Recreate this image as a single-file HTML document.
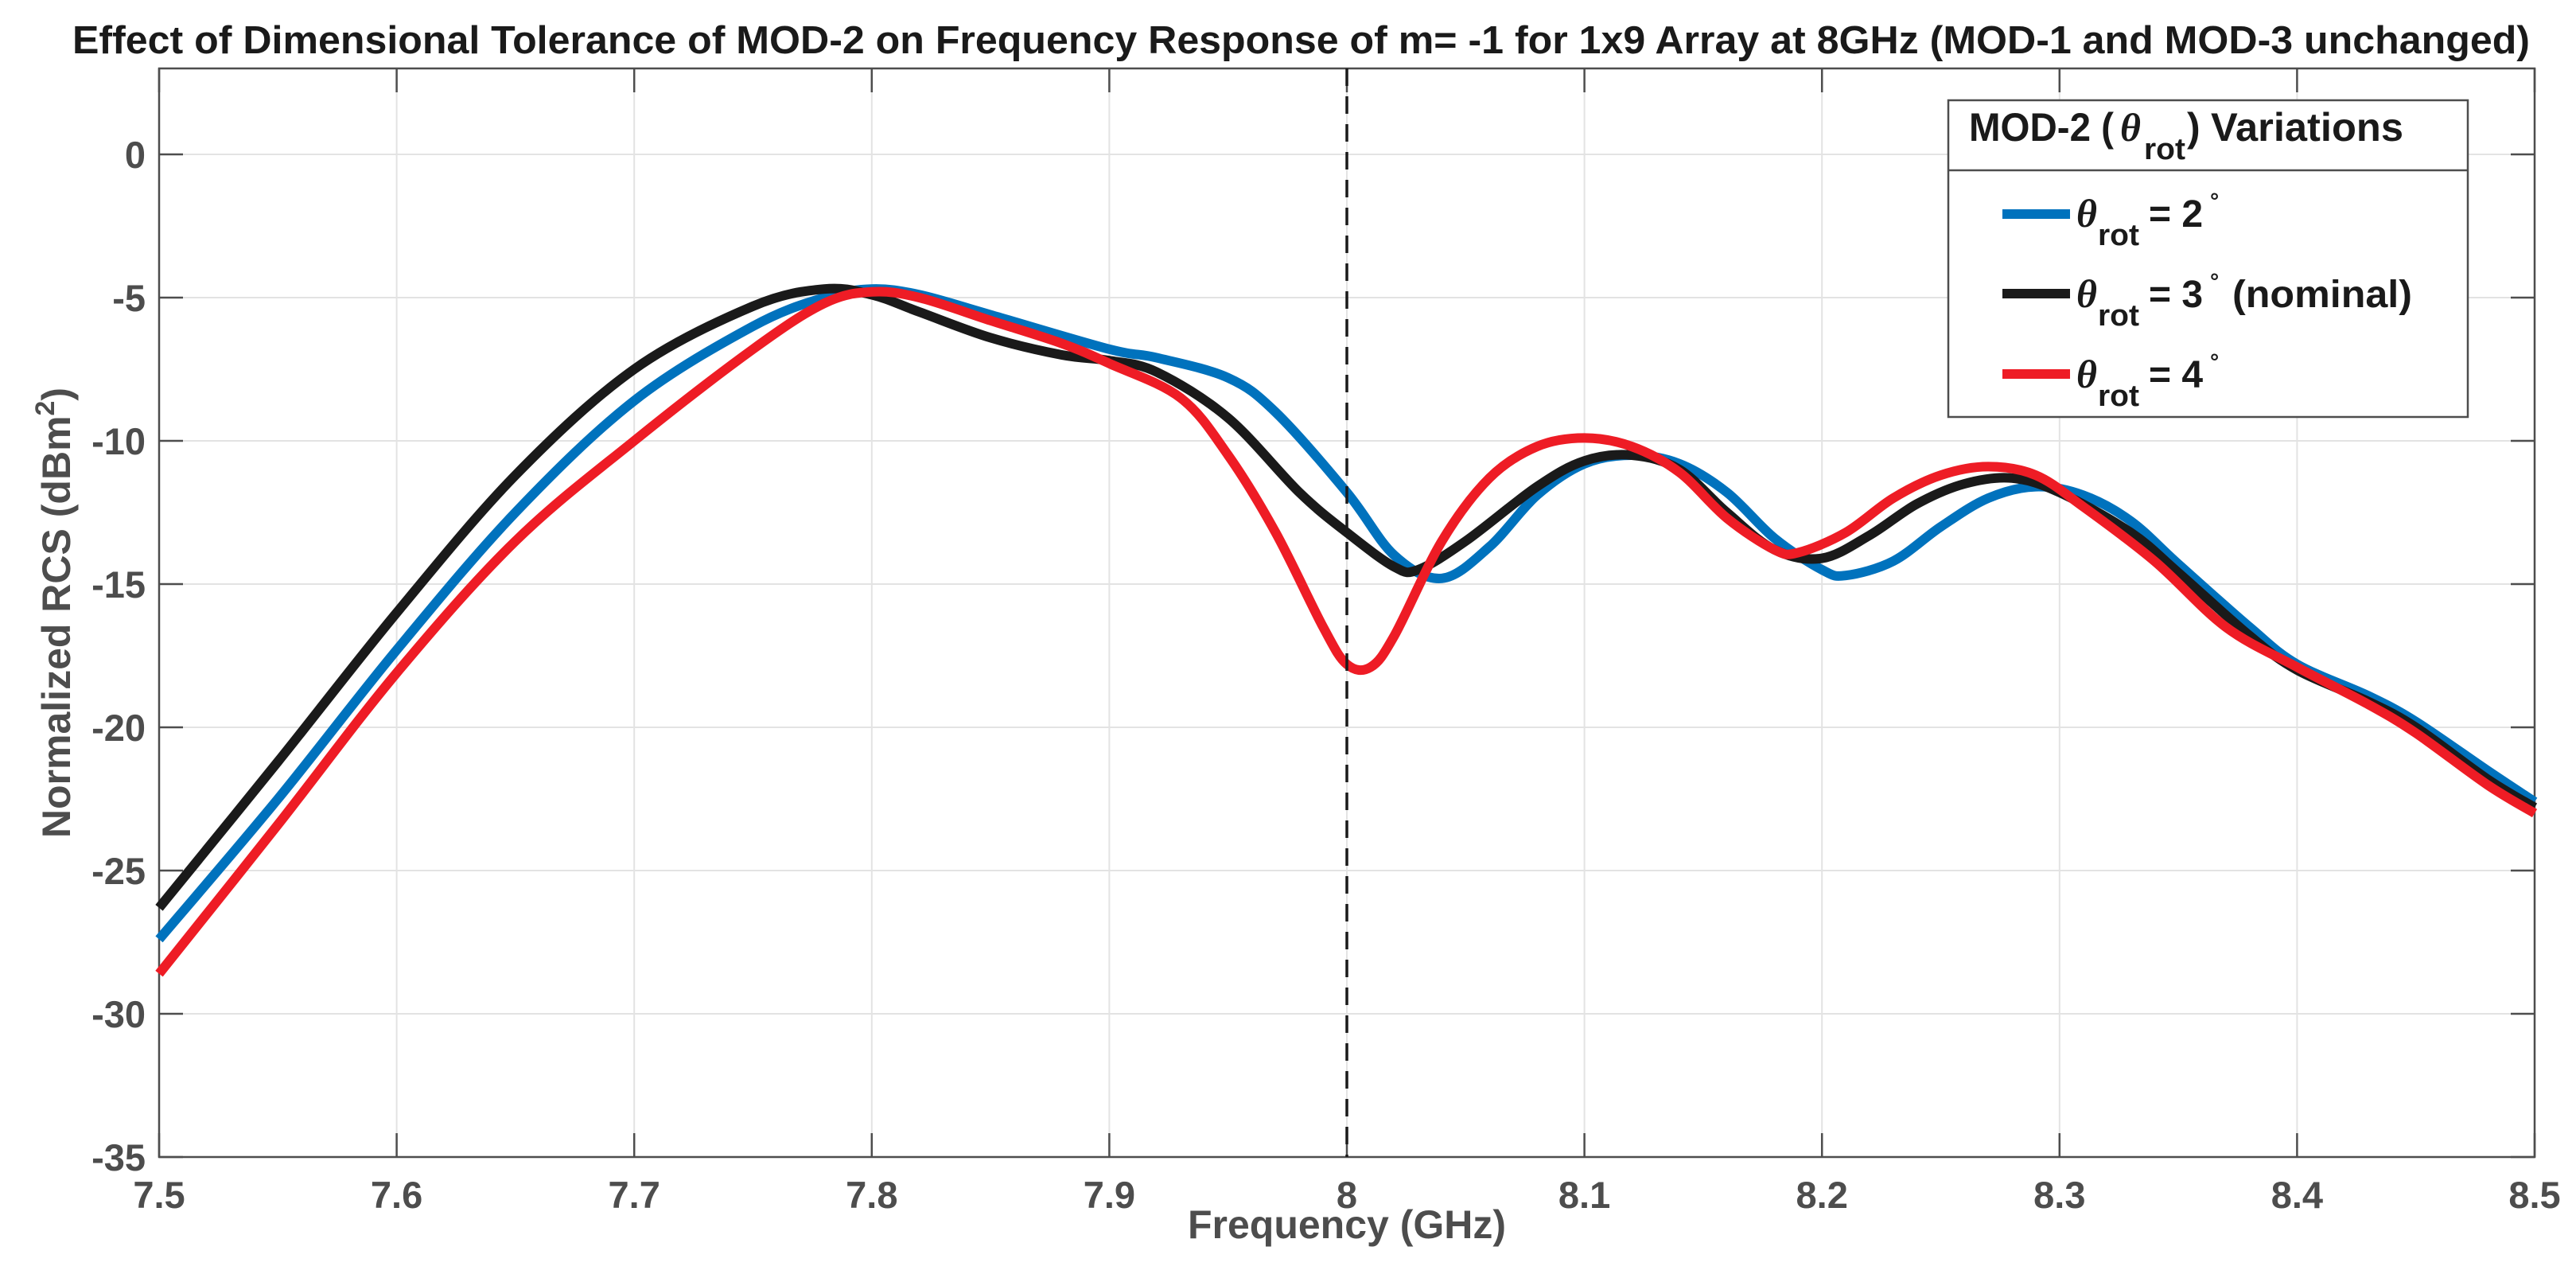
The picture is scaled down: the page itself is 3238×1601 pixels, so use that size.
<!DOCTYPE html>
<html><head><meta charset="utf-8"><style>
html,body{margin:0;padding:0;background:#fff;}
svg{display:block;font-family:"Liberation Sans",Arial,sans-serif;}
</style></head><body>
<svg id="chart" width="3238" height="1601" viewBox="0 0 3238 1601" xmlns="http://www.w3.org/2000/svg">
<rect x="0" y="0" width="3238" height="1601" fill="#fff"/>
<text x="91" y="67" textLength="3089" lengthAdjust="spacingAndGlyphs" font-size="49" font-weight="bold" fill="#1a1a1a">Effect of Dimensional Tolerance of MOD-2 on Frequency Response of m= -1 for 1x9 Array at 8GHz (MOD-1 and MOD-3 unchanged)</text>
<g id="grid"></g>
<g id="axes"></g>
<g id="series"></g>
<g id="legend">
  <rect x="2449" y="126" width="653" height="398" fill="#fff" stroke="#4d4d4d" stroke-width="2.5"/>
  <line x1="2449" y1="214" x2="3102" y2="214" stroke="#4d4d4d" stroke-width="2.5"/>
  <g font-weight="bold" fill="#1a1a1a">
    <text x="2475" y="177" font-size="50" textLength="182" lengthAdjust="spacingAndGlyphs">MOD-2 (</text>
    <text x="2665" y="177" font-size="50" font-style="italic" font-family="Liberation Serif">θ</text>
    <text x="2695" y="200" font-size="38" textLength="52" lengthAdjust="spacingAndGlyphs">rot</text>
    <text x="2749" y="177" font-size="50">)</text>
    <text x="2779" y="177" font-size="50" textLength="242" lengthAdjust="spacingAndGlyphs">Variations</text>
  </g>
  <g font-weight="bold" fill="#1a1a1a">
    <line x1="2517" y1="269" x2="2602" y2="269" stroke="#0072BD" stroke-width="12"/>
    <text x="2610" y="285" font-size="50" font-style="italic" font-family="Liberation Serif">θ</text>
    <text x="2637" y="308" font-size="38" textLength="52" lengthAdjust="spacingAndGlyphs">rot</text>
    <text x="2701" y="285" font-size="48">= 2</text>
    <text x="2778" y="262" font-size="28">°</text>
  </g>
  <g font-weight="bold" fill="#1a1a1a">
    <line x1="2517" y1="369" x2="2602" y2="369" stroke="#1a1a1a" stroke-width="12"/>
    <text x="2610" y="386" font-size="50" font-style="italic" font-family="Liberation Serif">θ</text>
    <text x="2637" y="409" font-size="38" textLength="52" lengthAdjust="spacingAndGlyphs">rot</text>
    <text x="2701" y="386" font-size="48">= 3</text>
    <text x="2778" y="363" font-size="28">°</text>
    <text x="2806" y="386" font-size="48" textLength="226" lengthAdjust="spacingAndGlyphs">(nominal)</text>
  </g>
  <g font-weight="bold" fill="#1a1a1a">
    <line x1="2517" y1="470" x2="2602" y2="470" stroke="#EE1C25" stroke-width="12"/>
    <text x="2610" y="487" font-size="50" font-style="italic" font-family="Liberation Serif">θ</text>
    <text x="2637" y="510" font-size="38" textLength="52" lengthAdjust="spacingAndGlyphs">rot</text>
    <text x="2701" y="487" font-size="48">= 4</text>
    <text x="2778" y="464" font-size="28">°</text>
  </g>
</g>
</svg>
<script>
const xTicks = [7.5,7.6,7.7,7.8,7.9,8,8.1,8.2,8.3,8.4,8.5];
const xTickLabels = ["7.5","7.6","7.7","7.8","7.9","8","8.1","8.2","8.3","8.4","8.5"];
const yTicks = [0,-5,-10,-15,-20,-25,-30,-35];
const yTickLabels = ["0","-5","-10","-15","-20","-25","-30","-35"];
const blueX = [7.5,7.55,7.6,7.65,7.7,7.75,7.78,7.8,7.82,7.85,7.9,7.92,7.95,7.97,8.0,8.02,8.04,8.06,8.08,8.1,8.12,8.14,8.16,8.18,8.2,8.21,8.23,8.25,8.27,8.29,8.31,8.33,8.35,8.38,8.4,8.43,8.45,8.48,8.5];
const blueY = [-27.4,-22.5,-17.3,-12.5,-8.6,-6,-5,-4.7,-4.9,-5.6,-6.8,-7.1,-7.8,-9.0,-11.8,-14.0,-14.8,-13.7,-11.9,-10.8,-10.5,-10.8,-11.8,-13.4,-14.5,-14.7,-14.2,-13.0,-12.0,-11.6,-11.9,-12.8,-14.3,-16.5,-17.8,-18.9,-19.8,-21.5,-22.6];
const blackX = [7.5,7.55,7.6,7.65,7.7,7.75,7.78,7.8,7.82,7.85,7.88,7.9,7.92,7.95,7.98,8.0,8.02,8.03,8.05,8.08,8.1,8.12,8.14,8.16,8.18,8.2,8.22,8.24,8.26,8.28,8.3,8.33,8.35,8.38,8.4,8.43,8.45,8.48,8.5];
const blackY = [-26.3,-21.2,-16,-11.2,-7.5,-5.3,-4.7,-4.9,-5.5,-6.4,-7.0,-7.2,-7.6,-9.2,-11.8,-13.2,-14.4,-14.5,-13.5,-11.6,-10.7,-10.5,-11.0,-12.5,-13.8,-14.1,-13.3,-12.2,-11.5,-11.3,-11.8,-13.2,-14.6,-16.8,-18.0,-19.1,-20.0,-21.8,-22.8];
const redX = [7.5,7.55,7.6,7.65,7.7,7.75,7.78,7.8,7.82,7.85,7.88,7.9,7.93,7.95,7.97,7.99,8.0,8.01,8.02,8.04,8.06,8.08,8.1,8.12,8.14,8.16,8.18,8.19,8.21,8.23,8.25,8.27,8.29,8.31,8.34,8.37,8.4,8.43,8.45,8.48,8.5];
const redY = [-28.6,-23.4,-18.1,-13.5,-10,-6.8,-5.2,-4.8,-5.0,-5.8,-6.6,-7.3,-8.5,-10.5,-13.2,-16.5,-17.8,-17.9,-16.8,-13.5,-11.3,-10.2,-9.9,-10.2,-11.1,-12.7,-13.8,-13.9,-13.2,-12.0,-11.2,-10.9,-11.2,-12.3,-14.2,-16.5,-17.9,-19.2,-20.2,-22.0,-23.0];
const markerX = 8;

const L=200,R=3186,T=86,B=1454,XMIN=7.5,XMAX=8.5,YMIN=-35,YMAX=3;
const sx=v=>L+(v-XMIN)/(XMAX-XMIN)*(R-L);
const sy=v=>B-(v-YMIN)/(YMAX-YMIN)*(B-T);
const NS="http://www.w3.org/2000/svg";
function mk(tag,attrs,parent){const e=document.createElementNS(NS,tag);for(const k in attrs)e.setAttribute(k,attrs[k]);parent.appendChild(e);return e;}
const grid=document.getElementById('grid'),axes=document.getElementById('axes'),series=document.getElementById('series');
mk('rect',{x:L,y:T,width:R-L,height:B-T,fill:'#fff'},grid);
xTicks.forEach((v,i)=>{
  const gl=mk('line',{x1:sx(v),x2:sx(v),y1:T,y2:B,stroke:'#e3e3e3','stroke-width':2},grid);
  
  
  mk('line',{x1:sx(v),x2:sx(v),y1:B,y2:B-30,stroke:'#4d4d4d','stroke-width':2.5},axes);
  mk('line',{x1:sx(v),x2:sx(v),y1:T,y2:T+30,stroke:'#4d4d4d','stroke-width':2.5},axes);
  const t=mk('text',{x:sx(v),y:1518,'text-anchor':'middle','font-size':47,'font-weight':'bold',fill:'#4d4d4d'},axes);
  t.textContent=xTickLabels[i];
  
  
});
yTicks.forEach((v,i)=>{
  const gl=mk('line',{x1:L,x2:R,y1:sy(v),y2:sy(v),stroke:'#e3e3e3','stroke-width':2},grid);
  
  
  mk('line',{x1:L,x2:L+30,y1:sy(v),y2:sy(v),stroke:'#4d4d4d','stroke-width':2.5},axes);
  mk('line',{x1:R,x2:R-30,y1:sy(v),y2:sy(v),stroke:'#4d4d4d','stroke-width':2.5},axes);
  const t=mk('text',{x:L-17,y:sy(v)+17,'text-anchor':'end','font-size':47,'font-weight':'bold',fill:'#4d4d4d'},axes);
  t.textContent=yTickLabels[i];
  
  
});
const box=mk('rect',{x:L,y:T,width:R-L,height:B-T,fill:'none',stroke:'#4d4d4d','stroke-width':2.5},axes);


const xl=mk('text',{x:(L+R)/2,y:1556,'text-anchor':'middle','font-size':50,'font-weight':'bold',fill:'#4d4d4d'},axes);
xl.textContent='Frequency (GHz)';


const yl=mk('text',{x:0,y:0,'text-anchor':'middle','font-size':50,'font-weight':'bold',fill:'#4d4d4d',transform:`translate(88,${(T+B)/2}) rotate(-90)`},axes);
yl.innerHTML='Normalized RCS (dBm<tspan font-size="34" dy="-20">2</tspan><tspan dy="20">)</tspan>';



function smoothPath(xs,ys){
  const p=xs.map((x,i)=>[sx(x),sy(ys[i])]);
  let d=`M${p[0][0]},${p[0][1]}`;
  for(let i=0;i<p.length-1;i++){
    const p0=p[i-1]||p[i],p1=p[i],p2=p[i+1],p3=p[i+2]||p2;
    const c1=[p1[0]+(p2[0]-p0[0])/6,p1[1]+(p2[1]-p0[1])/6];
    const c2=[p2[0]-(p3[0]-p1[0])/6,p2[1]-(p3[1]-p1[1])/6];
    d+=` C${c1[0]},${c1[1]} ${c2[0]},${c2[1]} ${p2[0]},${p2[1]}`;
  }
  return d;
}
const s1=mk('path',{d:smoothPath(blueX,blueY),fill:'none',stroke:'#0072BD','stroke-width':12,'stroke-linejoin':'round'},series);


const s2=mk('path',{d:smoothPath(blackX,blackY),fill:'none',stroke:'#1a1a1a','stroke-width':12,'stroke-linejoin':'round'},series);


const s3=mk('path',{d:smoothPath(redX,redY),fill:'none',stroke:'#EE1C25','stroke-width':12,'stroke-linejoin':'round'},series);


const ml=mk('line',{x1:sx(markerX),x2:sx(markerX),y1:T,y2:B,stroke:'#1a1a1a','stroke-width':3.5,'stroke-dasharray':'22,13'},series);


</script>
</body></html>
